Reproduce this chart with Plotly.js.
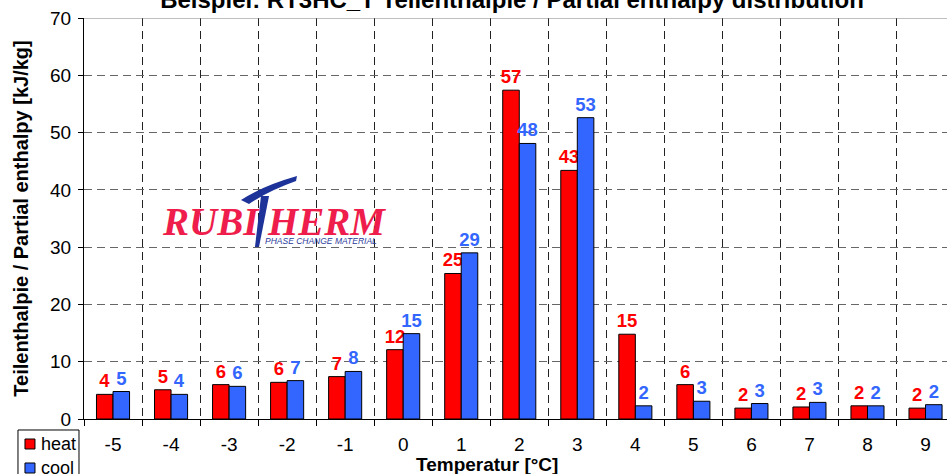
<!DOCTYPE html>
<html>
<head>
<meta charset="utf-8">
<script src="https://cdn.plot.ly/plotly-3.0.1.min.js"></script>
<style>html,body{margin:0;padding:0;background:#fff;overflow:hidden}#chart{width:947px;height:474px}</style>
</head>
<body>
<div id="chart"></div>
<script>
// ---- data ----
var categories = ["-5","-4","-3","-2","-1","0","1","2","3","4","5","6","7","8","9"];
var seriesNames = ["heat", "cool"];
var heatValues = [4.3, 5.1, 6.0, 6.4, 7.4, 12.1, 25.4, 57.4, 43.4, 14.8, 6.0, 1.9, 2.1, 2.3, 1.9];
var coolValues = [4.8, 4.3, 5.7, 6.7, 8.3, 14.9, 29.0, 48.1, 52.6, 2.3, 3.1, 2.7, 2.9, 2.3, 2.5];
var heatLabels = ["4","5","6","6","7","12","25","57","43","15","6","2","2","2","2"];
var coolLabels = ["5","4","6","7","8","15","29","48","53","2","3","3","3","2","2"];
var yTicks = [0,10,20,30,40,50,60,70];
var seriesColors = ["#FF0000", "#3366FF"];

// ---- layout helpers (pixel -> paper for decorations) ----
var L = 84, T = 18, W = 947, H = 474, B = 55;
var pw = W - L, ph = H - T - B;
function px(x){ return ((x - L) / pw).toFixed(4); }
function py(y){ return ((H - B - y) / ph).toFixed(4); }

var FONT = "Liberation Sans, Arial, sans-serif";

function barTrace(i, values, labels){
  return {
    type: "bar", name: seriesNames[i], x: categories, y: values,
    text: labels, textposition: "outside", constraintext: "none", cliponaxis: false,
    textfont: {family: FONT, size: 18.5, color: seriesColors[i], weight: "bold"},
    marker: {color: seriesColors[i], line: {color: "#000", width: 1}},
    hoverinfo: "x+y", showlegend: false
  };
}
var heat = barTrace(0, heatValues, heatLabels);
var cool = barTrace(1, coolValues, coolLabels);

var crossbar = "M " + px(241) + "," + py(200) + " Q " + px(262) + "," + py(186) + " " + px(297) + "," + py(176) +
  " L " + px(296) + "," + py(181) + " Q " + px(268) + "," + py(191) + " " + px(249) + "," + py(204) + " Z";
var stem = "M " + px(261) + "," + py(196) + " L " + px(269) + "," + py(196) + " L " + px(259) + "," + py(247) +
  " L " + px(255) + "," + py(247) + " Z";

// custom legend box (matching the compact original legend)
var legendShapes = [
  {type: "rect", xref: "paper", yref: "paper", x0: px(18), x1: px(79), y0: py(430), y1: py(480),
   fillcolor: "#fff", line: {color: "#000", width: 1}, layer: "above"}
];
var legendAnn = [];
seriesNames.forEach(function(name, i){
  var cy = 444 + i * 24;
  legendShapes.push({type: "rect", xref: "paper", yref: "paper", x0: px(25), x1: px(35), y0: py(cy + 5), y1: py(cy - 5),
    fillcolor: seriesColors[i], line: {color: "#000", width: 1}, layer: "above"});
  legendAnn.push({xref: "paper", yref: "paper", x: px(39), y: py(cy), xanchor: "left", yanchor: "middle", showarrow: false,
    text: name, font: {family: FONT, size: 18, color: "#000"}});
});

var layout = {
  width: W, height: H,
  margin: {l: L, r: 0, t: T, b: B, pad: 0, autoexpand: false},
  paper_bgcolor: "#fff", plot_bgcolor: "#fff",
  barmode: "group", bargap: 0.43, bargroupgap: 0,
  font: {family: FONT, color: "#000"},
  showlegend: false,
  title: {
    text: "<b>Beispiel: RT3HC_T Teilenthalpie / Partial enthalpy distribution</b>",
    font: {family: FONT, size: 24, color: "#000"},
    x: 512 / W, xanchor: "center", xref: "container",
    y: 1.0, yanchor: "middle", yref: "container"
  },
  xaxis: {
    type: "category", range: [-0.5, 14.37],
    tickson: "boundaries", ticks: "outside", ticklen: 6, tickcolor: "#000", tickwidth: 1,
    ticklabelstandoff: 8,
    showgrid: true, gridcolor: "#222", griddash: "8px,5px", gridwidth: 1,
    showline: true, linecolor: "#000", linewidth: 1,
    tickfont: {family: FONT, size: 19, color: "#000"},
    zeroline: false, fixedrange: true
  },
  yaxis: {
    range: [0, 70], tickvals: yTicks, ticks: "outside", ticklen: 5, tickcolor: "#000",
    ticklabelstandoff: 3,
    showgrid: true, gridcolor: "#666", griddash: "8px,5px", gridwidth: 1,
    showline: true, linecolor: "#000", linewidth: 1, zeroline: false,
    tickfont: {family: FONT, size: 19, color: "#000"},
    title: {text: "<b>Teilenthalpie / Partial enthalpy [kJ/kg]</b>", font: {family: FONT, size: 20, color: "#000"}, standoff: 16},
    fixedrange: true
  },
  shapes: [
    {type: "line", xref: "paper", yref: "y", x0: 0, x1: 1, y0: 70, y1: 70, line: {color: "#808080", width: 1}},
    {type: "path", xref: "paper", yref: "paper", path: crossbar, fillcolor: "#1E3399", line: {width: 0}, layer: "above"},
    {type: "path", xref: "paper", yref: "paper", path: stem, fillcolor: "#1E3399", line: {width: 0}, layer: "above"}
  ].concat(legendShapes),
  annotations: [
    {xref: "paper", yref: "paper", x: px(487), y: py(465), xanchor: "center", yanchor: "middle", showarrow: false,
     text: "<b>Temperatur [°C]</b>", font: {family: FONT, size: 19, color: "#000"}},
    {xref: "paper", yref: "paper", x: px(160), y: py(222), xanchor: "left", yanchor: "middle", showarrow: false,
     text: "<b><i>RUBI</i></b>", font: {family: "Liberation Serif, Times New Roman, serif", size: 39, color: "#EE1D4B"}},
    {xref: "paper", yref: "paper", x: px(265), y: py(222), xanchor: "left", yanchor: "middle", showarrow: false,
     text: "<b><i>HERM</i></b>", font: {family: "Liberation Serif, Times New Roman, serif", size: 39, color: "#EE1D4B"}},
    {xref: "paper", yref: "paper", x: px(263), y: py(241), xanchor: "left", yanchor: "middle", showarrow: false,
     text: "<i>PHASE CHANGE MATERIAL</i>", font: {family: FONT, size: 8.5, color: "#2B3A9A"}}
  ].concat(legendAnn)
};

Plotly.newPlot("chart", [heat, cool], layout, {displayModeBar: false, staticPlot: true});
</script>
</body>
</html>
